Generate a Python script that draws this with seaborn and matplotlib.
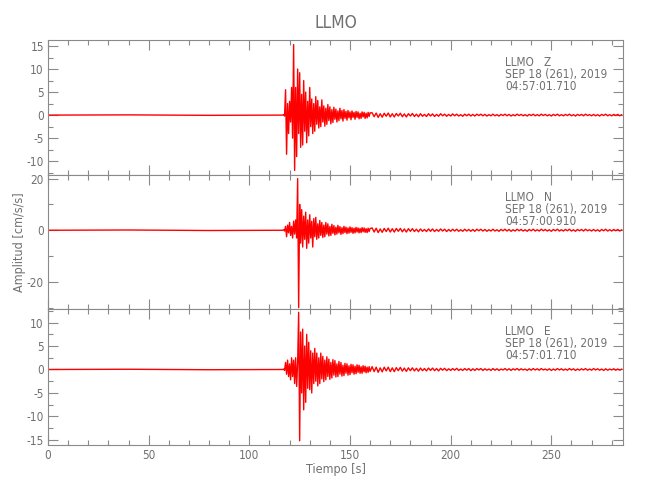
import numpy as np
import pandas as pd
import matplotlib
matplotlib.use("Agg")
import matplotlib.pyplot as plt
import matplotlib.font_manager as fm
import seaborn as sns
from matplotlib.ticker import MultipleLocator

# ---------------- data ----------------
station = "LLMO"
components = ["Z", "N", "E"]
date_label = "SEP 18 (261), 2019"
start_times = ["04:57:01.710", "04:57:00.910", "04:57:01.710"]
x_ticks = [0, 50, 100, 150, 200, 250]
x_max = 285.6
y_limits = [(-13.0, 16.3), (-30.5, 21.4), (-16.1, 12.9)]
y_major = [5, 20, 5]
y_minor = [2.5, 10, 2.5]

# sampling grid of the read-off peaks
pre_t = [0.0, 40.0, 80.0, 116.5]
main_t0, main_dt, main_n = 117.0, 0.5, 87
tail_t0, tail_dt, tail_n = 161.0, 1.0, 125

pre_z = [0.0, 0.05, -0.05, 0.0]
main_z = [0.1, -0.2, 5.5, -8.5, 2.5, -4.0, 3.0, -1.5, 6.0, -5.0,
          15.3, -12.0, 6.0, -9.0, 10.0, -4.0, 9.2, -7.0, 4.5, -6.5,
          7.5, -3.5, 5.0, -6.0, 3.0, -4.5, 6.0, -2.5, 3.5, -4.0,
          2.5, -3.5, 4.0, -2.0, 3.2, -2.8, 1.8, -2.5, 3.3, -1.5,
          2.0, -2.4, 1.5, -2.0, 2.3, -1.2, 1.8, -1.9, 1.2, -1.6,
          1.7, -0.9, 1.3, -1.5, 0.9, -1.2, 1.5, -0.8, 1.0, -1.3,
          1.2, -0.7, 0.8, -1.1, 1.0, -0.6, 0.7, -1.0, 0.9, -0.5,
          0.6, -0.9, 0.8, -0.5, 0.7, -0.8, 0.4, -0.7, 0.7, -0.4,
          0.6, -0.7, 0.4, -0.6, 0.6, -0.3, 0.5]
tail_z = [0.5, -0.35, 0.45, -0.5, 0.3, -0.45, 0.4, -0.25, 0.45, -0.4,
          0.3, -0.4, 0.35, -0.2, 0.4, -0.35, 0.25, -0.4, 0.3, -0.2,
          0.35, -0.3, 0.2, -0.35, 0.3, -0.25, 0.15, -0.3, 0.3, -0.2,
          0.25, -0.3, 0.15, -0.25, 0.3, -0.15, 0.2, -0.25, 0.15, -0.2,
          0.25, -0.15, 0.2, -0.2, 0.1, -0.25, 0.2, -0.15, 0.2, -0.2,
          0.15, -0.2, 0.2, -0.1, 0.2, -0.15, 0.15, -0.2, 0.1, -0.15,
          0.2, -0.15, 0.1, -0.2, 0.15, -0.1, 0.2, -0.15, 0.15, -0.2,
          0.1, -0.15, 0.2, -0.1, 0.15, -0.15, 0.1, -0.2, 0.15, -0.1,
          0.2, -0.15, 0.1, -0.15, 0.2, -0.1, 0.15, -0.15, 0.1, -0.2,
          0.15, -0.1, 0.2, -0.15, 0.1, -0.15, 0.15, -0.1, 0.2, -0.15,
          0.1, -0.2, 0.15, -0.1, 0.15, -0.15, 0.2, -0.1, 0.1, -0.15,
          0.15, -0.15, 0.1, -0.2, 0.15, -0.1, 0.2, -0.15, 0.1, -0.15,
          0.15, -0.1, 0.15, -0.15, 0.1]

pre_n = [0.0, 0.1, -0.1, 0.0]
main_n_vals = [0.2, -0.3, 1.5, -2.5, 2.0, -1.0, 3.0, -2.0, 1.5, -3.0,
               3.5, -1.5, 4.0, -3.0, 20.0, -30.0, 10.0, -5.0, 8.0, -6.5,
               5.5, -3.5, 7.0, -7.0, 4.0, -5.0, 6.0, -3.0, 3.5, -6.5,
               4.5, -2.5, 5.0, -3.5, 2.5, -3.0, 3.8, -2.0, 3.0, -2.8,
               2.0, -2.5, 3.0, -1.5, 2.5, -2.2, 1.5, -2.0, 2.3, -1.2,
               1.8, -1.8, 1.2, -1.5, 1.9, -1.0, 1.4, -1.6, 1.0, -1.3,
               1.5, -0.9, 1.2, -1.3, 0.9, -1.1, 1.3, -0.8, 1.0, -1.2,
               0.8, -1.0, 1.1, -0.7, 0.9, -1.0, 0.7, -0.9, 1.0, -0.6,
               0.9, -0.8, 0.6, -0.9, 0.8, -0.5, 0.7]
tail_n_vals = [0.9, -0.7, 0.8, -0.9, 0.5, -0.8, 0.7, -0.5, 0.8, -0.7,
               0.6, -0.7, 0.7, -0.4, 0.7, -0.6, 0.5, -0.7, 0.6, -0.4,
               0.6, -0.5, 0.4, -0.6, 0.5, -0.4, 0.3, -0.5, 0.5, -0.4,
               0.5, -0.5, 0.3, -0.4, 0.5, -0.3, 0.4, -0.5, 0.3, -0.4,
               0.4, -0.3, 0.4, -0.4, 0.2, -0.4, 0.4, -0.3, 0.3, -0.4,
               0.3, -0.4, 0.4, -0.2, 0.4, -0.3, 0.3, -0.4, 0.2, -0.3,
               0.4, -0.3, 0.2, -0.4, 0.3, -0.2, 0.4, -0.3, 0.3, -0.4,
               0.2, -0.3, 0.4, -0.2, 0.3, -0.3, 0.2, -0.4, 0.3, -0.2,
               0.4, -0.3, 0.2, -0.3, 0.4, -0.2, 0.3, -0.3, 0.2, -0.4,
               0.3, -0.2, 0.4, -0.3, 0.2, -0.3, 0.3, -0.2, 0.4, -0.3,
               0.2, -0.4, 0.3, -0.2, 0.3, -0.3, 0.4, -0.2, 0.2, -0.3,
               0.3, -0.3, 0.2, -0.4, 0.3, -0.2, 0.4, -0.3, 0.2, -0.3,
               0.3, -0.2, 0.3, -0.3, 0.2]

pre_e = [0.0, 0.05, -0.05, 0.0]
main_e = [0.1, -0.2, 1.5, -1.0, 2.0, -1.5, 1.2, -2.2, 2.5, -1.5,
          2.0, -3.0, 2.5, -3.6, 1.5, 12.2, -15.2, 8.0, -5.0, 8.6,
          -8.6, 5.0, -7.0, 7.5, -4.0, 5.8, -4.3, 4.0, -5.0, 3.5,
          -3.0, 4.5, -2.5, 3.5, -3.5, 2.5, -3.0, 3.5, -2.0, 2.8,
          -2.6, 2.0, -2.2, 2.7, -1.5, 2.2, -2.1, 1.5, -1.8, 2.1,
          -1.2, 1.9, -1.6, 1.2, -1.5, 1.7, -1.0, 1.5, -1.4, 0.9,
          -1.3, 1.3, -0.8, 1.2, -1.2, 0.8, -1.1, 1.1, -0.7, 1.0,
          -1.0, 0.7, -0.9, 1.0, -0.6, 0.9, -0.8, 0.6, -0.8, 0.8,
          -0.5, 0.7, -0.7, 0.5, -0.6, 0.6, -0.4]
tail_e = [0.6, -0.45, 0.5, -0.6, 0.35, -0.5, 0.5, -0.3, 0.5, -0.45,
          0.35, -0.45, 0.4, -0.25, 0.45, -0.35, 0.3, -0.4, 0.35, -0.25,
          0.35, -0.3, 0.25, -0.35, 0.3, -0.25, 0.2, -0.3, 0.3, -0.2,
          0.3, -0.25, 0.2, -0.3, 0.25, -0.15, 0.25, -0.25, 0.15, -0.2,
          0.2, -0.15, 0.25, -0.2, 0.1, -0.2, 0.2, -0.15, 0.2, -0.25,
          0.15, -0.2, 0.2, -0.1, 0.2, -0.2, 0.15, -0.15, 0.1, -0.2,
          0.2, -0.15, 0.15, -0.2, 0.1, -0.1, 0.2, -0.15, 0.15, -0.2,
          0.15, -0.1, 0.2, -0.15, 0.15, -0.1, 0.1, -0.2, 0.15, -0.15,
          0.2, -0.1, 0.15, -0.15, 0.2, -0.1, 0.1, -0.15, 0.15, -0.2,
          0.1, -0.15, 0.2, -0.1, 0.15, -0.15, 0.1, -0.15, 0.2, -0.1,
          0.15, -0.2, 0.1, -0.15, 0.15, -0.1, 0.2, -0.15, 0.1, -0.15,
          0.2, -0.1, 0.15, -0.15, 0.1, -0.2, 0.15, -0.15, 0.1, -0.1,
          0.15, -0.15, 0.1, -0.15, 0.1]

traces = {
    "Z": (pre_z, main_z, tail_z),
    "N": (pre_n, main_n_vals, tail_n_vals),
    "E": (pre_e, main_e, tail_e),
}

# ---------------- table ----------------
times = np.concatenate([pre_t,
                        main_t0 + main_dt * np.arange(main_n),
                        tail_t0 + tail_dt * np.arange(tail_n)])
frames = []
for comp in components:
    pre, main, tail = traces[comp]
    amp = np.concatenate([pre, main, tail])
    frames.append(pd.DataFrame({"t": times, "amp": amp, "comp": comp}))
df = pd.concat(frames, ignore_index=True)

# ---------------- fonts ----------------
sns.set_style("ticks")
entries = fm.fontManager.ttflist
if any(f.name == "Liberation Sans Narrow" for f in entries):
    fam, stretch = "Liberation Sans Narrow", "normal"
elif any(f.name == "DejaVu Sans" and f.stretch == "condensed" for f in entries):
    fam, stretch = "DejaVu Sans", "condensed"
else:
    fam, stretch = "Liberation Sans", "normal"
plt.rcParams["font.family"] = [fam, "DejaVu Sans"]
plt.rcParams["font.stretch"] = stretch
plt.rcParams["axes.unicode_minus"] = False

grey = "#8a8a8a"
txt = "#707070"

# ---------------- figure ----------------
W, H = 650, 500
fig = plt.figure(figsize=(6.5, 5.0), dpi=100)
left_px, right_px = 48, 623
panels_px = [(40, 175), (175, 309), (309, 445)]

for i, comp in enumerate(components):
    top, bot = panels_px[i]
    ax = fig.add_axes([left_px / W, 1 - bot / H, (right_px - left_px) / W, (bot - top) / H])
    sub = df[df["comp"] == comp]
    sns.lineplot(data=sub, x="t", y="amp", ax=ax, color="#ff0000", lw=1.0,
                 sort=False, estimator=None)
    ax.set_xlim(0, x_max)
    ax.set_ylim(*y_limits[i])
    ax.set_xticks(x_ticks)
    ax.xaxis.set_minor_locator(MultipleLocator(10))
    ax.yaxis.set_major_locator(MultipleLocator(y_major[i]))
    ax.yaxis.set_minor_locator(MultipleLocator(y_minor[i]))
    ax.tick_params(which="both", direction="in", top=True, right=True,
                   color=grey, labelcolor=txt, labelsize=8.5, width=0.8)
    ax.tick_params(which="major", length=7, pad=3)
    ax.tick_params(which="minor", length=3.5)
    for s in ax.spines.values():
        s.set_color(grey)
        s.set_linewidth(0.8)
    ax.set_xlabel("")
    ax.set_ylabel("")
    if i < 2:
        ax.tick_params(labelbottom=False)
    h = bot - top
    lines = [f"{station}   {comp}", date_label, start_times[i]]
    for k, line in enumerate(lines):
        ax.text(227.0, 1 - (22.5 + 12 * k) / h, line,
                transform=ax.get_xaxis_transform(),
                fontsize=8.5, color=txt, va="center", ha="left")

fig.text(335.5 / W, 1 - 23 / H, station, ha="center", va="center",
         fontsize=12.5, color=txt)
fig.text(335.5 / W, 1 - 470 / H, "Tiempo [s]", ha="center", va="center",
         fontsize=9, color=txt)
fig.text(20 / W, 1 - 242 / H, "Amplitud [cm/s/s]", ha="center", va="center",
         rotation=90, fontsize=9, color=txt)

fig.savefig("out.png", dpi=100, facecolor="white")
